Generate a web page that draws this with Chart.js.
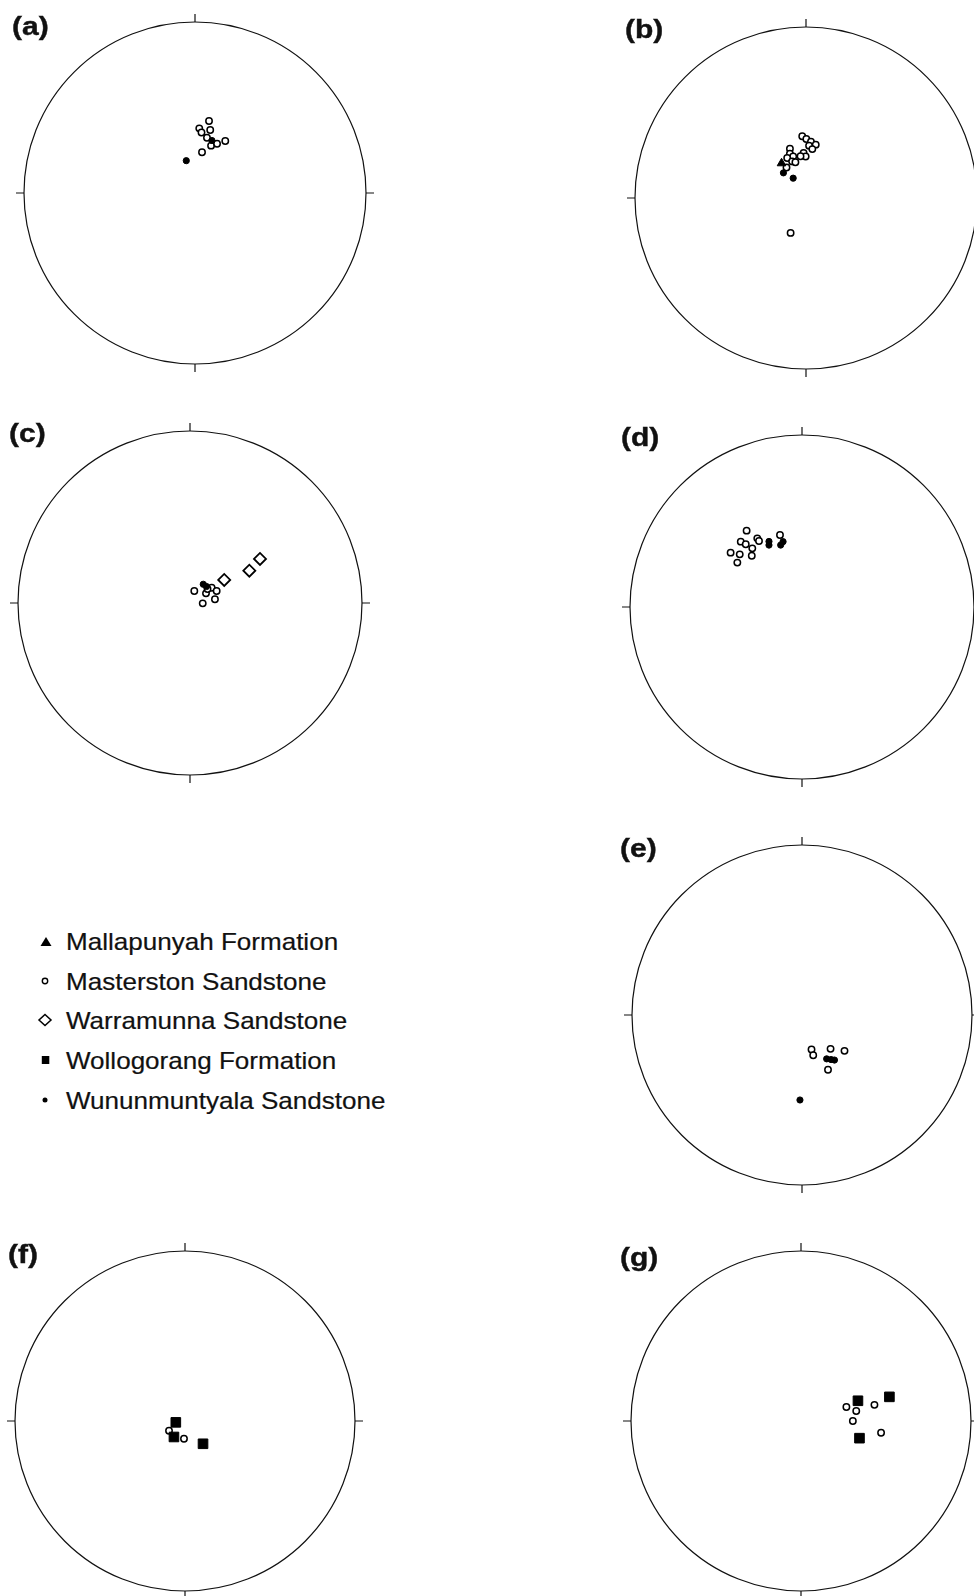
<!DOCTYPE html>
<html><head><meta charset="utf-8">
<script src="https://cdn.jsdelivr.net/npm/chart.js@4/dist/chart.umd.min.js"></script>
<style>
html,body{margin:0;padding:0;background:#fff;overflow:hidden;width:974px;height:1596px;position:relative;}
.lbl{position:absolute;font-family:"Liberation Sans",Arial,Helvetica,sans-serif;font-weight:bold;font-size:25px;line-height:1;transform:scaleX(1.2);transform-origin:0 0;color:#111;white-space:nowrap;-webkit-text-stroke:0.4px #111;}
.leg{position:absolute;font-family:"Liberation Sans",Arial,Helvetica,sans-serif;font-size:24px;line-height:1;transform:scaleX(1.085);transform-origin:0 0;color:#111;white-space:nowrap;-webkit-text-stroke:0.2px #111;}
svg.mk{position:absolute;left:0;top:0;overflow:visible;}
</style></head><body>
<script>
// ---------- DATA (net coordinates: x = east, y = north, in units of the net radius) ----------
const formations = ['Mallapunyah Formation','Masterston Sandstone','Warramunna Sandstone','Wollogorang Formation','Wununmuntyala Sandstone'];
const panelLabels = ['(a)','(b)','(c)','(d)','(e)','(f)','(g)'];

const aMasterston = [[0.082,0.421],[0.025,0.378],[0.089,0.368],[0.038,0.354],[0.070,0.323],[0.094,0.277],[0.129,0.288],[0.177,0.304],[0.041,0.238]];
const aWununmuntyala = [[0.099,0.307],[-0.051,0.189]];

const bMasterston = [[-0.022,0.361],[0.002,0.345],[0.029,0.329],[0.057,0.312],[0.018,0.306],[0.037,0.286],[-0.014,0.263],[-0.002,0.243],[-0.032,0.244],[-0.094,0.288],[-0.094,0.259],[-0.075,0.243],[-0.110,0.234],[-0.081,0.214],[-0.114,0.178],[-0.062,0.209],[-0.090,-0.204]];
const bMallapunyah = [[-0.143,0.203]];
const bWununmuntyala = [[-0.132,0.147],[-0.075,0.116]];

const cWarramunna = [[0.199,0.134],[0.345,0.188],[0.407,0.256]];
const cMasterston = [[0.025,0.070],[0.093,0.056],[0.126,0.089],[0.155,0.070],[0.145,0.022],[0.074,-0.002],[0.102,0.081]];
const cWununmuntyala = [[0.077,0.109],[0.096,0.096]];

const dMasterston = [[-0.322,0.444],[-0.356,0.380],[-0.327,0.365],[-0.260,0.399],[-0.250,0.384],[-0.289,0.341],[-0.415,0.316],[-0.362,0.306],[-0.376,0.258],[-0.292,0.298],[-0.128,0.419]];
const dWununmuntyala = [[-0.192,0.381],[-0.192,0.360],[-0.124,0.360],[-0.110,0.380]];

const eMasterston = [[0.056,-0.203],[0.066,-0.237],[0.168,-0.199],[0.250,-0.211],[0.153,-0.322]];
const eWununmuntyala = [[0.145,-0.258],[0.171,-0.262],[0.191,-0.265],[-0.012,-0.500]];

const fWollogorang = [[-0.054,-0.008],[-0.065,-0.094],[0.106,-0.134]];
const fMasterston = [[-0.094,-0.057],[-0.006,-0.104]];

const gWollogorang = [[0.335,0.119],[0.520,0.142],[0.344,-0.101]];
const gMasterston = [[0.267,0.082],[0.325,0.059],[0.432,0.095],[0.305,0.000],[0.471,-0.069]];

// which series belong to each panel (first listed is drawn on top)
const panelSeries = [
  {'Wununmuntyala Sandstone':aWununmuntyala,'Masterston Sandstone':aMasterston},
  {'Wununmuntyala Sandstone':bWununmuntyala,'Mallapunyah Formation':bMallapunyah,'Masterston Sandstone':bMasterston},
  {'Wununmuntyala Sandstone':cWununmuntyala,'Masterston Sandstone':cMasterston,'Warramunna Sandstone':cWarramunna},
  {'Wununmuntyala Sandstone':dWununmuntyala,'Masterston Sandstone':dMasterston},
  {'Wununmuntyala Sandstone':eWununmuntyala,'Masterston Sandstone':eMasterston},
  {'Wollogorang Formation':fWollogorang,'Masterston Sandstone':fMasterston},
  {'Wollogorang Formation':gWollogorang,'Masterston Sandstone':gMasterston}
];

// ---------- LAYOUT ----------
const panelLayout = [
  {cx:195,cy:193,r:171, lx:12, ly:14},
  {cx:806,cy:198,r:171, lx:625,ly:17},
  {cx:190,cy:603,r:172, lx:9,  ly:421},
  {cx:802,cy:607,r:172, lx:621,ly:425},
  {cx:802,cy:1015,r:170,lx:620,ly:836},
  {cx:185,cy:1421,r:170,lx:8,  ly:1242},
  {cx:801,cy:1421,r:170,lx:620,ly:1245}
];
const legendLayout = {x:66, tops:[930,969.5,1008.5,1048.5,1088.5], mx:45, my:[942,981,1020,1060,1100]};

// ---------- STYLES ----------
const styles = {
  'Mallapunyah Formation':   {pointStyle:'triangle',radius:5,  bg:'#000',bw:1},
  'Masterston Sandstone':    {pointStyle:'circle',  radius:3.2,bg:'#fff',bw:1.5},
  'Warramunna Sandstone':    {pointStyle:'rectRot', radius:6,  bg:'#fff',bw:1.8},
  'Wollogorang Formation':   {pointStyle:'rect',    radius:6.8,bg:'#000',bw:1},
  'Wununmuntyala Sandstone': {pointStyle:'circle',  radius:3.1,bg:'#000',bw:1}
};

const netPlugin = {
  id:'net',
  beforeDatasetsDraw(chart){
    const {ctx, scales:{x,y}} = chart;
    const cx = x.getPixelForValue(0), cy = y.getPixelForValue(0);
    const r = x.getPixelForValue(1) - cx;
    ctx.save();
    ctx.strokeStyle = '#111'; ctx.lineWidth = 1.2;
    ctx.beginPath(); ctx.arc(cx,cy,r,0,Math.PI*2); ctx.stroke();
    const t = 8;
    ctx.beginPath();
    ctx.moveTo(cx,cy-r); ctx.lineTo(cx,cy-r-t);
    ctx.moveTo(cx,cy+r); ctx.lineTo(cx,cy+r+t);
    ctx.moveTo(cx-r,cy); ctx.lineTo(cx-r-t,cy);
    ctx.moveTo(cx+r,cy); ctx.lineTo(cx+r+t,cy);
    ctx.stroke();
    ctx.restore();
  }
};

panelLayout.forEach((L,i)=>{
  const pad = 14;
  const size = 2*L.r + 2*pad;
  const cv = document.createElement('canvas');
  cv.width = size; cv.height = size;
  cv.style.cssText = `position:absolute;left:${L.cx-L.r-pad}px;top:${L.cy-L.r-pad}px;width:${size}px;height:${size}px;`;
  document.body.appendChild(cv);
  const datasets = Object.entries(panelSeries[i]).map(([name,pts])=>{
    const s = styles[name];
    return {
      label:name,
      data: pts.map(p=>({x:p[0],y:p[1]})),
      pointStyle:s.pointStyle, pointRadius:s.radius, pointHoverRadius:s.radius,
      backgroundColor:s.bg, borderColor:'#000', borderWidth:s.bw, clip:false
    };
  });
  new Chart(cv,{
    type:'scatter',
    data:{datasets},
    options:{
      responsive:false, animation:false, events:[],
      layout:{padding:pad},
      scales:{
        x:{type:'linear',min:-1,max:1,display:false},
        y:{type:'linear',min:-1,max:1,display:false}
      },
      plugins:{legend:{display:false},tooltip:{enabled:false}}
    },
    plugins:[netPlugin]
  });
  const lb = document.createElement('div');
  lb.className = 'lbl';
  lb.style.left = L.lx+'px'; lb.style.top = L.ly+'px';
  lb.textContent = panelLabels[i];
  document.body.appendChild(lb);
});

// ---------- LEGEND ----------
formations.forEach((name,i)=>{
  const d = document.createElement('div');
  d.className = 'leg';
  d.style.left = legendLayout.x+'px'; d.style.top = legendLayout.tops[i]+'px';
  d.textContent = name;
  document.body.appendChild(d);
});
const m = legendLayout.mx, my = legendLayout.my;
const svgNS = 'http://www.w3.org/2000/svg';
const svg = document.createElementNS(svgNS,'svg');
svg.setAttribute('class','mk'); svg.setAttribute('width','974'); svg.setAttribute('height','1596');
svg.innerHTML =
  `<polygon points="${m+1},${my[0]-5} ${m-4.5},${my[0]+4} ${m+6.5},${my[0]+4}" fill="#000"/>`+
  `<circle cx="${m}" cy="${my[1]}" r="2.7" fill="#fff" stroke="#000" stroke-width="1.4"/>`+
  `<polygon points="${m},${my[2]-5.5} ${m+6},${my[2]} ${m},${my[2]+5.5} ${m-6},${my[2]}" fill="#fff" stroke="#000" stroke-width="1.5"/>`+
  `<rect x="${m-3.2}" y="${my[3]-4}" width="7.5" height="8" fill="#000"/>`+
  `<circle cx="${m}" cy="${my[4]}" r="2.5" fill="#000"/>`;
document.body.appendChild(svg);
</script>
</body></html>
